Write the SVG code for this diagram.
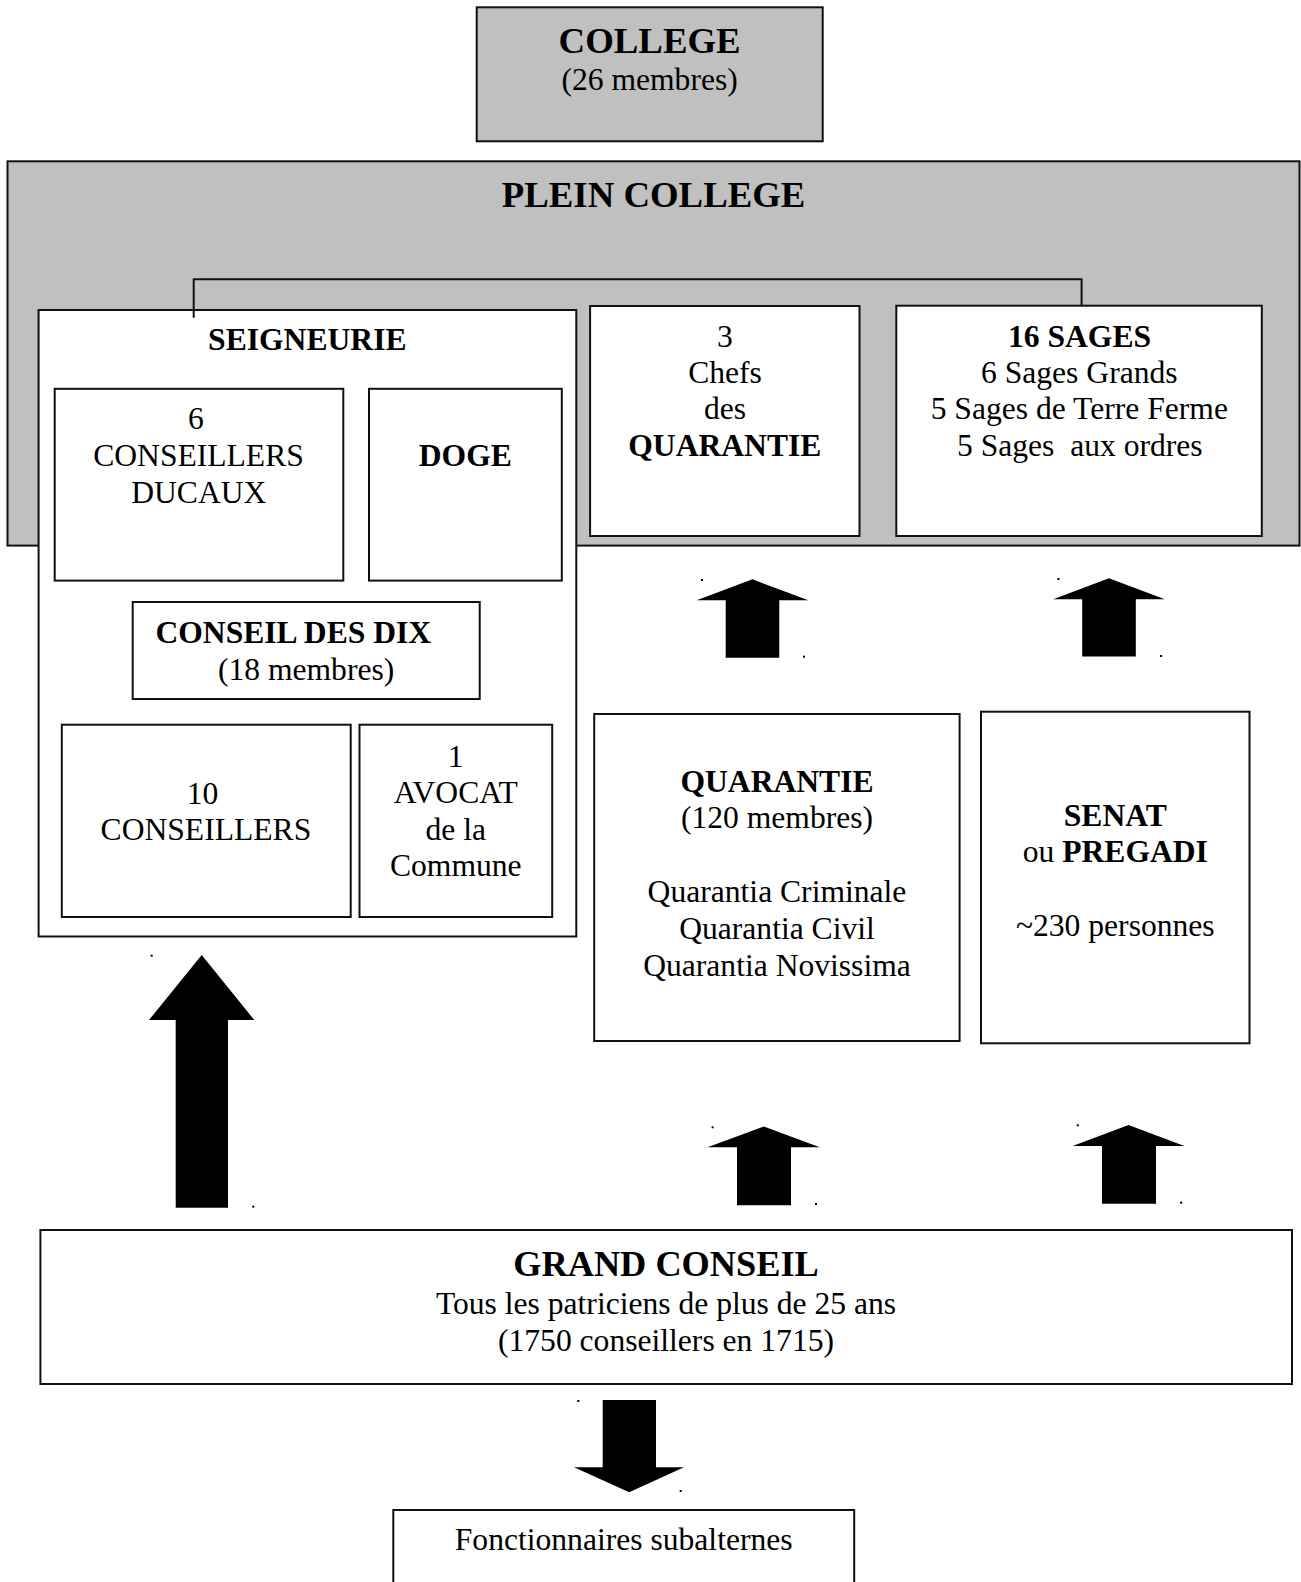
<svg xmlns="http://www.w3.org/2000/svg" width="1301" height="1582" viewBox="0 0 1301 1582">
<style>
  .box { fill: #ffffff; stroke: #111111; stroke-width: 2; }
  .gray { fill: #c0c0c0; stroke: #111111; stroke-width: 2; }
  text { font-family: "Liberation Serif", "Times New Roman", serif; fill: #000000; text-anchor: middle; font-size: 31.6px; }
  .b { font-weight: bold; }
  .title { font-weight: bold; font-size: 36.8px; }
  .conn { fill: none; stroke: #111111; stroke-width: 2; }
  .arrow { fill: #000000; stroke: none; }
  .dot { fill: #000000; }
</style>
<rect width="1301" height="1582" fill="#ffffff"/>

<g id="college">
  <rect class="gray" x="476.7" y="7.3" width="346" height="134"/>
  <text class="title" x="649.6" y="53.3">COLLEGE</text>
  <text x="649.6" y="90">(26 membres)</text>
</g>

<g id="plein-college">
  <rect class="gray" x="7.5" y="161.3" width="1292" height="384.3"/>
  <text class="title" x="653.6" y="206.7">PLEIN COLLEGE</text>
</g>

<g id="seigneurie">
  <rect class="box" x="38.6" y="310" width="537.7" height="626.5"/>
  <text class="b" x="307.3" y="350">SEIGNEURIE</text>
</g>

<g id="conseillers-ducaux">
  <rect class="box" x="54.7" y="388.8" width="288.6" height="191.8"/>
  <text x="196" y="429.4">6</text>
  <text x="198.5" y="466">CONSEILLERS</text>
  <text x="198.8" y="503">DUCAUX</text>
</g>

<g id="doge">
  <rect class="box" x="369" y="388.8" width="192.8" height="191.8"/>
  <text class="b" x="465.3" y="466">DOGE</text>
</g>

<g id="conseil-des-dix">
  <rect class="box" x="132.7" y="602" width="347" height="97"/>
  <text class="b" x="293.3" y="643">CONSEIL DES DIX</text>
  <text x="306.1" y="679.5">(18 membres)</text>
</g>

<g id="dix-conseillers">
  <rect class="box" x="61.8" y="724.7" width="288.9" height="192.3"/>
  <text x="202.5" y="803.9">10</text>
  <text x="205.9" y="839.5">CONSEILLERS</text>
</g>

<g id="avocat">
  <rect class="box" x="359.5" y="724.7" width="192.7" height="192.3"/>
  <text x="455.6" y="766.6">1</text>
  <text x="455.8" y="803">AVOCAT</text>
  <text x="455.8" y="839.5">de la</text>
  <text x="455.8" y="876">Commune</text>
</g>

<g id="chefs-quarantie">
  <rect class="box" x="590.1" y="306" width="269.4" height="230"/>
  <text x="725" y="346.7">3</text>
  <text x="725" y="382.5">Chefs</text>
  <text x="725" y="419.3">des</text>
  <text class="b" x="724.8" y="456">QUARANTIE</text>
</g>

<g id="seize-sages">
  <rect class="box" x="896.3" y="305.7" width="365.5" height="230.3"/>
  <text class="b" x="1079.5" y="346.7">16 SAGES</text>
  <text x="1079.3" y="382.5">6 Sages Grands</text>
  <text x="1079.3" y="419.3">5 Sages de Terre Ferme</text>
  <text x="1079.8" y="456" xml:space="preserve">5 Sages  aux ordres</text>
</g>

<g id="quarantie">
  <rect class="box" x="594.2" y="714" width="365.4" height="327"/>
  <text class="b" x="777" y="791.7">QUARANTIE</text>
  <text x="777" y="828">(120 membres)</text>
  <text x="777" y="902">Quarantia Criminale</text>
  <text x="777" y="939">Quarantia Civil</text>
  <text x="777" y="976">Quarantia Novissima</text>
</g>

<g id="senat">
  <rect class="box" x="981" y="711.7" width="268.5" height="331.6"/>
  <text class="b" x="1115.3" y="825.7">SENAT</text>
  <text x="1115.3" y="861.7">ou <tspan class="b">PREGADI</tspan></text>
  <text x="1115.3" y="936">~230 personnes</text>
</g>

<g id="grand-conseil">
  <rect class="box" x="40.4" y="1230" width="1251.6" height="154"/>
  <text class="title" x="666" y="1275.5" style="font-size:36.3px">GRAND CONSEIL</text>
  <text x="666" y="1313.5">Tous les patriciens de plus de 25 ans</text>
  <text x="666" y="1350.5">(1750 conseillers en 1715)</text>
</g>

<g id="fonctionnaires">
  <rect class="box" x="393.3" y="1510" width="460.9" height="90"/>
  <text x="623.7" y="1550">Fonctionnaires subalternes</text>
</g>

<g id="connectors">
  <path class="conn" d="M193.7 317.7 V279.3 H1081.6 V306"/>
  <polygon class="arrow" points="752.5,579.3 808.3,600.3 779.3,600.3 779.3,657.7 725.7,657.7 725.7,600.3 696.7,600.3"/>
  <polygon class="arrow" points="1109,578.3 1164.8,599.3 1135.8,599.3 1135.8,656.6 1082.2,656.6 1082.2,599.3 1053.2,599.3"/>
  <polygon class="arrow" points="763.8,1126.5 819.8,1147.3 791,1147.3 791,1205.3 737,1205.3 737,1147.3 707.5,1147.3"/>
  <polygon class="arrow" points="1128.6,1125 1184.4,1146 1156,1146 1156,1203.7 1102,1203.7 1102,1146 1072.6,1146"/>
  <polygon class="arrow" points="201.7,955 254.3,1020 228,1020 228,1207.7 175.7,1207.7 175.7,1020 149,1020"/>
  <polygon class="arrow" points="602.7,1400 656,1400 656,1467.3 684,1467.3 629.2,1492.3 574,1467.3 602.7,1467.3"/>
  <rect class="dot" x="701" y="579" width="2" height="2"/>
  <rect class="dot" x="803" y="655.7" width="2" height="2"/>
  <rect class="dot" x="1057.4" y="578" width="2" height="2"/>
  <rect class="dot" x="1160" y="655" width="2" height="2"/>
  <rect class="dot" x="711.6" y="1126.3" width="2" height="2"/>
  <rect class="dot" x="815" y="1203" width="2" height="2"/>
  <rect class="dot" x="1076.8" y="1124.3" width="2" height="2"/>
  <rect class="dot" x="1180.2" y="1201.7" width="2" height="2"/>
  <rect class="dot" x="150.7" y="954.7" width="2" height="2"/>
  <rect class="dot" x="252.3" y="1205.7" width="2" height="2"/>
  <rect class="dot" x="577.3" y="1400" width="2" height="2"/>
  <rect class="dot" x="679.7" y="1490" width="2" height="2"/>
</g>
</svg>
